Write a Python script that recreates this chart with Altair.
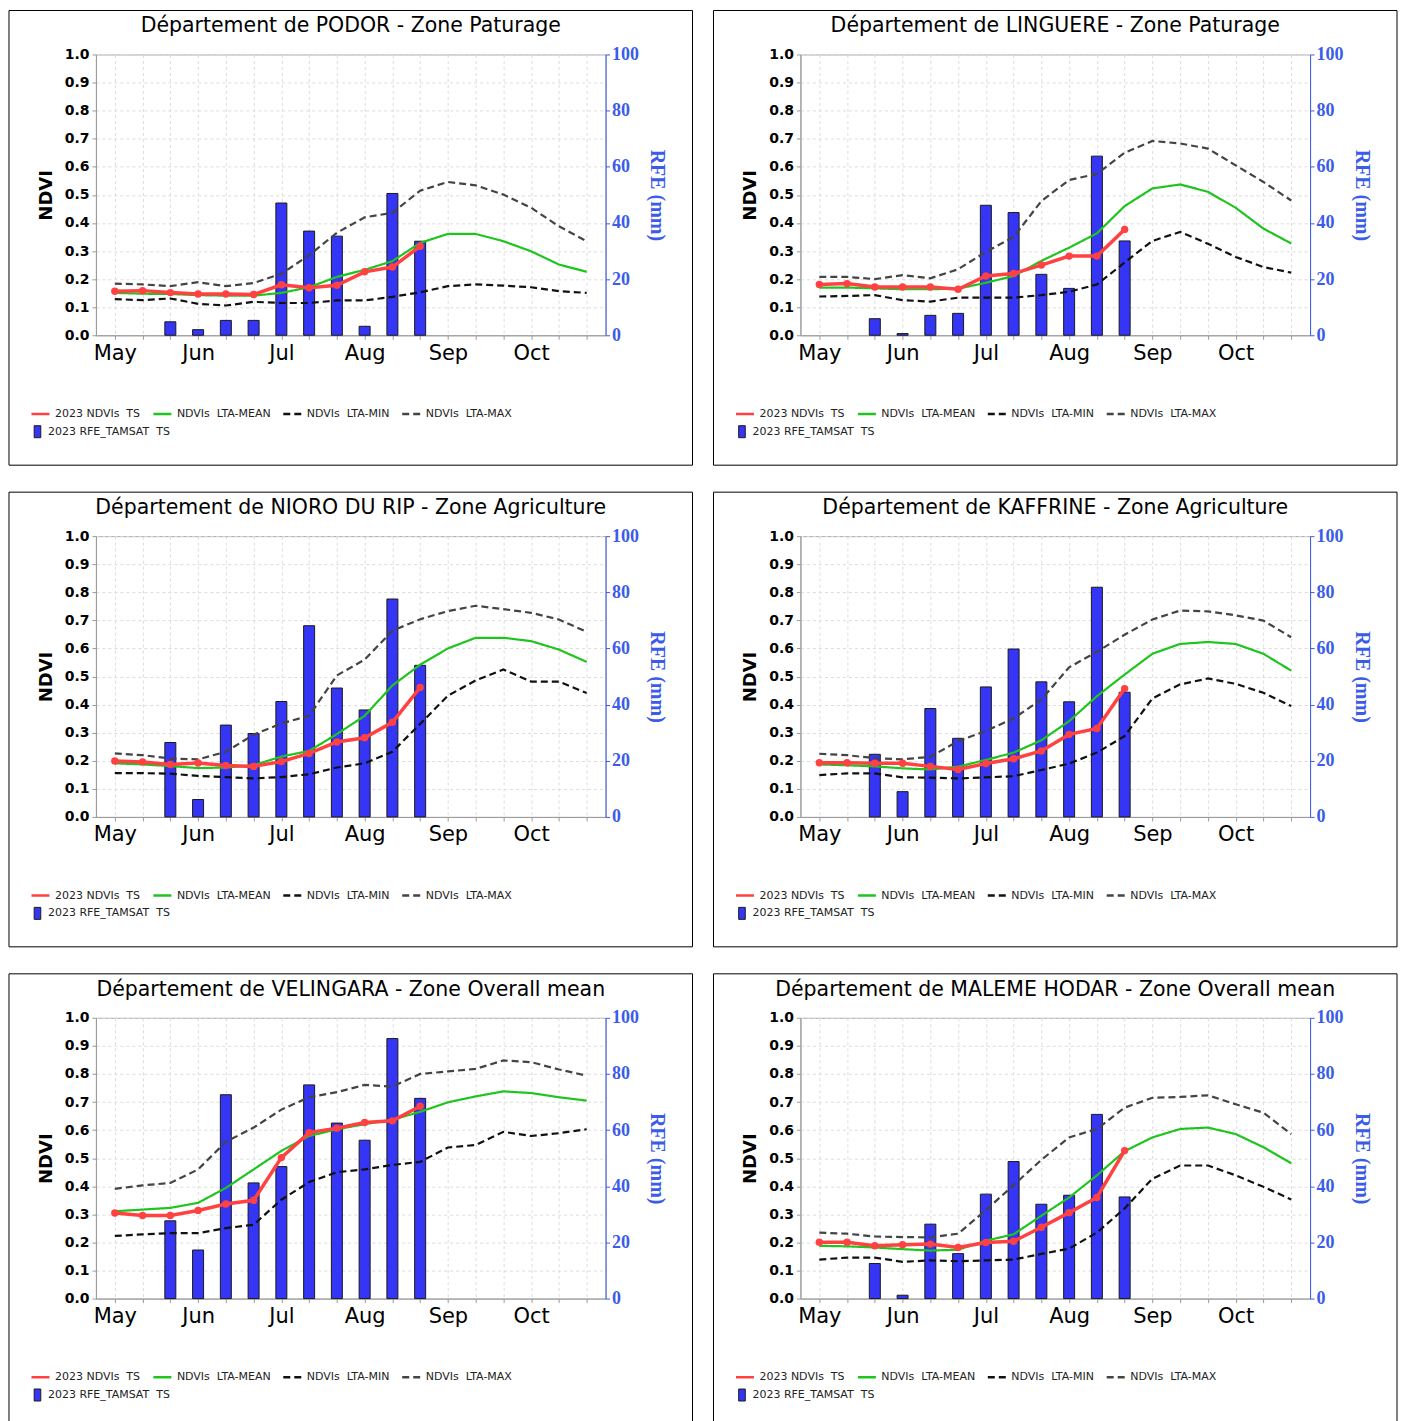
import altair as alt
import pandas as pd

# ---------------- data ----------------
dekad_ticks = [0, 1, 2, 3, 4, 5, 6, 7, 8, 9, 10, 11, 12, 13, 14, 15, 16, 17]
month_labels = ["May", "Jun", "Jul", "Aug", "Sep", "Oct"]   # at dekads 0,3,6,9,12,15
ndvi_ticks = [0.0, 0.1, 0.2, 0.3, 0.4, 0.5, 0.6, 0.7, 0.8, 0.9, 1.0]
rfe_ticks = [0, 20, 40, 60, 80, 100]

NB = "\u00a0"
series_names = [
    "2023 NDVIs" + NB + " TS",
    NB * 5 + "NDVIs" + NB + " LTA-MEAN",
    NB * 5 + "NDVIs" + NB + " LTA-MIN",
    NB * 5 + "NDVIs" + NB + " LTA-MAX",
]
rfe_name = "2023 RFE_TAMSAT" + NB + " TS"

titles = [
    "Département de PODOR - Zone Paturage",
    "Département de LINGUERE - Zone Paturage",
    "Département de NIORO DU RIP - Zone Agriculture",
    "Département de KAFFRINE - Zone Agriculture",
    "Département de VELINGARA - Zone Overall mean",
    "Département de MALEME HODAR - Zone Overall mean",
]

podor_ts = [0.157, 0.159, 0.152, 0.147, 0.147, 0.145, 0.180, 0.169, 0.178, 0.226, 0.243, 0.317]
podor_mean = [0.151, 0.148, 0.147, 0.143, 0.141, 0.141, 0.151, 0.171, 0.208, 0.233, 0.264, 0.329, 0.361, 0.361, 0.335, 0.299, 0.252, 0.226]
podor_min = [0.129, 0.125, 0.131, 0.112, 0.106, 0.119, 0.115, 0.115, 0.124, 0.124, 0.137, 0.153, 0.175, 0.181, 0.177, 0.171, 0.157, 0.151]
podor_max = [0.184, 0.181, 0.175, 0.189, 0.175, 0.186, 0.219, 0.285, 0.365, 0.420, 0.436, 0.515, 0.546, 0.534, 0.501, 0.454, 0.388, 0.335]
podor_rfe = [None, None, 4.8, 2.0, 5.3, 5.3, 47.1, 37.1, 35.3, 3.2, 50.5, 33.5]

linguere_ts = [0.181, 0.184, 0.172, 0.172, 0.172, 0.164, 0.211, 0.220, 0.250, 0.282, 0.282, 0.377]
linguere_mean = [0.170, 0.170, 0.167, 0.164, 0.164, 0.166, 0.187, 0.211, 0.265, 0.312, 0.363, 0.460, 0.523, 0.537, 0.511, 0.454, 0.380, 0.327]
linguere_min = [0.138, 0.140, 0.143, 0.125, 0.120, 0.134, 0.134, 0.134, 0.143, 0.155, 0.181, 0.259, 0.336, 0.368, 0.326, 0.279, 0.243, 0.223]
linguere_max = [0.208, 0.208, 0.200, 0.214, 0.203, 0.235, 0.297, 0.350, 0.478, 0.553, 0.575, 0.650, 0.692, 0.683, 0.665, 0.605, 0.546, 0.480]
linguere_rfe = [None, None, 5.9, 0.6, 7.1, 7.8, 46.3, 43.7, 21.7, 16.7, 63.8, 33.6]

nioro_ts = [0.199, 0.196, 0.187, 0.192, 0.183, 0.180, 0.197, 0.226, 0.267, 0.282, 0.337, 0.461]
nioro_mean = [0.191, 0.187, 0.181, 0.174, 0.176, 0.184, 0.215, 0.235, 0.295, 0.360, 0.468, 0.542, 0.600, 0.638, 0.638, 0.626, 0.596, 0.552]
nioro_min = [0.156, 0.156, 0.154, 0.146, 0.142, 0.137, 0.142, 0.152, 0.176, 0.191, 0.232, 0.331, 0.432, 0.486, 0.525, 0.482, 0.482, 0.441]
nioro_max = [0.226, 0.220, 0.208, 0.205, 0.232, 0.293, 0.333, 0.360, 0.504, 0.560, 0.663, 0.704, 0.733, 0.752, 0.740, 0.727, 0.703, 0.659]
nioro_rfe = [None, None, 26.5, 6.2, 32.7, 29.7, 41.1, 68.1, 45.9, 38.1, 77.6, 54.0]

kaffrine_ts = [0.193, 0.193, 0.191, 0.191, 0.180, 0.169, 0.190, 0.207, 0.235, 0.294, 0.315, 0.457]
kaffrine_mean = [0.187, 0.184, 0.180, 0.173, 0.169, 0.179, 0.203, 0.229, 0.273, 0.341, 0.430, 0.507, 0.581, 0.616, 0.623, 0.616, 0.581, 0.521]
kaffrine_min = [0.149, 0.155, 0.155, 0.141, 0.140, 0.137, 0.141, 0.145, 0.167, 0.190, 0.229, 0.288, 0.422, 0.472, 0.493, 0.474, 0.442, 0.395]
kaffrine_max = [0.225, 0.220, 0.209, 0.205, 0.214, 0.270, 0.306, 0.351, 0.418, 0.533, 0.588, 0.649, 0.703, 0.735, 0.732, 0.718, 0.699, 0.640]
kaffrine_rfe = [None, None, 22.3, 9.0, 38.6, 28.0, 46.3, 59.8, 48.1, 41.0, 81.8, 44.4]

velingara_ts = [0.305, 0.296, 0.296, 0.314, 0.337, 0.350, 0.502, 0.591, 0.607, 0.627, 0.633, 0.685]
velingara_mean = [0.311, 0.317, 0.323, 0.341, 0.394, 0.460, 0.526, 0.579, 0.603, 0.621, 0.637, 0.665, 0.699, 0.720, 0.738, 0.732, 0.717, 0.705]
velingara_min = [0.223, 0.229, 0.233, 0.233, 0.251, 0.263, 0.352, 0.415, 0.450, 0.460, 0.476, 0.487, 0.538, 0.547, 0.594, 0.579, 0.589, 0.603]
velingara_max = [0.391, 0.403, 0.412, 0.460, 0.558, 0.609, 0.673, 0.717, 0.735, 0.761, 0.755, 0.800, 0.809, 0.818, 0.848, 0.842, 0.816, 0.794]
velingara_rfe = [None, None, 27.7, 17.3, 72.6, 41.2, 47.0, 76.1, 62.5, 56.4, 92.6, 71.3]

maleme_ts = [0.201, 0.201, 0.188, 0.192, 0.194, 0.182, 0.200, 0.204, 0.254, 0.306, 0.360, 0.527]
maleme_mean = [0.188, 0.186, 0.182, 0.176, 0.171, 0.174, 0.206, 0.229, 0.295, 0.360, 0.439, 0.525, 0.574, 0.604, 0.609, 0.586, 0.539, 0.482]
maleme_min = [0.139, 0.146, 0.146, 0.131, 0.136, 0.133, 0.136, 0.139, 0.159, 0.178, 0.235, 0.321, 0.427, 0.474, 0.474, 0.439, 0.398, 0.353]
maleme_max = [0.235, 0.231, 0.221, 0.219, 0.218, 0.231, 0.315, 0.404, 0.494, 0.574, 0.604, 0.680, 0.715, 0.718, 0.724, 0.692, 0.662, 0.586]
maleme_rfe = [None, None, 12.5, 1.2, 26.5, 16.0, 37.2, 48.8, 33.6, 36.8, 65.6, 36.2]

panels_data = [
    (titles[0], podor_ts, podor_mean, podor_min, podor_max, podor_rfe),
    (titles[1], linguere_ts, linguere_mean, linguere_min, linguere_max, linguere_rfe),
    (titles[2], nioro_ts, nioro_mean, nioro_min, nioro_max, nioro_rfe),
    (titles[3], kaffrine_ts, kaffrine_mean, kaffrine_min, kaffrine_max, kaffrine_rfe),
    (titles[4], velingara_ts, velingara_mean, velingara_min, velingara_max, velingara_rfe),
    (titles[5], maleme_ts, maleme_mean, maleme_min, maleme_max, maleme_rfe),
]

# ---------------- styling ----------------
RED = "#ff4141"
GREEN = "#1fc41f"
BLACK = "#111111"
GRAY = "#444444"
BLUE_BAR = "#3535f5"
BLUE_AX = "#3a5ce8"
GRID = "#dcdcdc"
W, H = 510, 281

month_js = "[" + ",".join("'" + m + "'" for m in month_labels) + "]"
x_label_expr = "datum.value % 3 == 0 ? " + month_js + "[datum.value / 3] : ''"


def make_panel(title, ts, mean, mn, mx, rfe):
    rows = []
    for name, vals in zip(series_names, [ts, mean, mn, mx]):
        for d, v in enumerate(vals):
            rows.append({"dekad": d, "series": name, "ndvi": v})
    df = pd.DataFrame(rows)
    df_ts = df[df["series"] == series_names[0]]
    df_lta = df[df["series"] != series_names[0]]
    rdf = pd.DataFrame([{"dekad": d, "rfe": v, "src": rfe_name}
                        for d, v in enumerate(rfe) if v is not None])

    x = alt.X("dekad:Q",
              scale=alt.Scale(domain=[-0.5, 17.5], nice=False, zero=False),
              axis=alt.Axis(values=dekad_ticks, title=None,
                            labelExpr=x_label_expr,
                            labelFont="DejaVu Sans", labelFontSize=21, labelColor="black",
                            labelFlush=False, labelOverlap=False, labelPadding=3,
                            grid=True, gridDash=[3, 3], gridColor=GRID,
                            domainColor="#999999", tickColor="#999999", tickSize=4))

    y_ndvi = alt.Y("ndvi:Q",
                   scale=alt.Scale(domain=[0, 1], nice=False),
                   axis=alt.Axis(title="NDVI", values=ndvi_ticks, format=".1f",
                                 labelFont="DejaVu Sans", labelFontWeight="bold",
                                 labelFontSize=14, labelColor="black", labelPadding=3,
                                 titleFont="DejaVu Sans", titleFontSize=18,
                                 titleFontWeight="bold", titleColor="black", titlePadding=9,
                                 grid=True, gridDash=[3, 3], gridColor=GRID,
                                 domainColor="#999999", tickColor="#999999", tickSize=4))

    y_rfe = alt.Y("rfe:Q",
                  scale=alt.Scale(domain=[0, 100], nice=False),
                  axis=alt.Axis(orient="right", title="RFE (mm)", values=rfe_ticks,
                                labelFont="Liberation Serif", labelFontWeight="bold",
                                labelFontSize=18, labelColor=BLUE_AX, labelPadding=2,
                                titleFont="Liberation Serif", titleFontSize=20,
                                titleFontWeight="bold", titleColor=BLUE_AX, titlePadding=8,
                                grid=False, domainColor=BLUE_AX, tickColor=BLUE_AX, tickSize=4))

    line_legend = alt.Legend(orient="none", legendX=-66, legendY=349, title=None,
                             direction="horizontal", columns=4, symbolType="stroke",
                             symbolSize=324, symbolStrokeWidth=2.5,
                             labelFont="DejaVu Sans", labelFontSize=11, labelColor="#222222",
                             labelOffset=4, columnPadding=7, padding=0, labelLimit=300)

    color = alt.Color("series:N",
                      scale=alt.Scale(domain=series_names, range=[RED, GREEN, BLACK, GRAY]),
                      legend=line_legend)
    dash = alt.StrokeDash("series:N",
                          scale=alt.Scale(domain=series_names,
                                          range=[[1, 0], [1, 0], [7, 4], [7, 4]]),
                          legend=line_legend)

    bars = alt.Chart(rdf).mark_bar(width=11, stroke="#1a1a1a", strokeWidth=1).encode(
        x=x, y=y_rfe,
        fill=alt.Fill("src:N", scale=alt.Scale(domain=[rfe_name], range=[BLUE_BAR]),
                      legend=alt.Legend(orient="none", legendX=-65, legendY=371, title=None,
                                        symbolType="M-0.55,-1H0.55V1H-0.55Z", symbolSize=144,
                                        symbolStrokeColor="#1a1a1a", symbolStrokeWidth=1,
                                        labelFont="DejaVu Sans", labelFontSize=11,
                                        labelColor="#222222", labelOffset=4, padding=0,
                                        labelLimit=300)))

    lta = alt.Chart(df_lta).mark_line(strokeWidth=2.2).encode(
        x=x, y=y_ndvi, color=color, strokeDash=dash, detail="series:N")
    ts_line = alt.Chart(df_ts).mark_line(strokeWidth=3.5).encode(
        x=x, y=y_ndvi, color=color)
    ts_pts = alt.Chart(df_ts).mark_circle(size=55, color=RED, opacity=1).encode(
        x=x, y=y_ndvi)
    frame = alt.Chart(pd.DataFrame({"k": [0]})).mark_rect(
        filled=False, stroke="black", strokeWidth=1, clip=False).encode(
        x=alt.value(-87), x2=alt.value(W + 87), y=alt.value(-44), y2=alt.value(H + 130))

    ndvi_layer = alt.layer(lta, ts_line, ts_pts, frame)

    return alt.layer(bars, ndvi_layer).resolve_scale(y="independent").properties(
        width=W, height=H,
        title=alt.TitleParams(title, font="DejaVu Sans", fontSize=20.5, fontWeight="normal",
                              color="black", anchor="middle", frame="group", offset=0, dy=27))


panels = [make_panel(*p) for p in panels_data]

chart = alt.concat(*panels, columns=2, spacing={"row": 25, "column": 19}).resolve_scale(
    color="independent", strokeDash="independent", fill="independent"
).resolve_legend(
    color="independent", strokeDash="independent", fill="independent"
).properties(
    padding={"left": 0, "top": 1, "right": 0, "bottom": 0}
).configure_view(stroke="#aaaaaa", strokeWidth=1)

chart.save("out.html", embed_options={"renderer": "svg", "actions": False})
